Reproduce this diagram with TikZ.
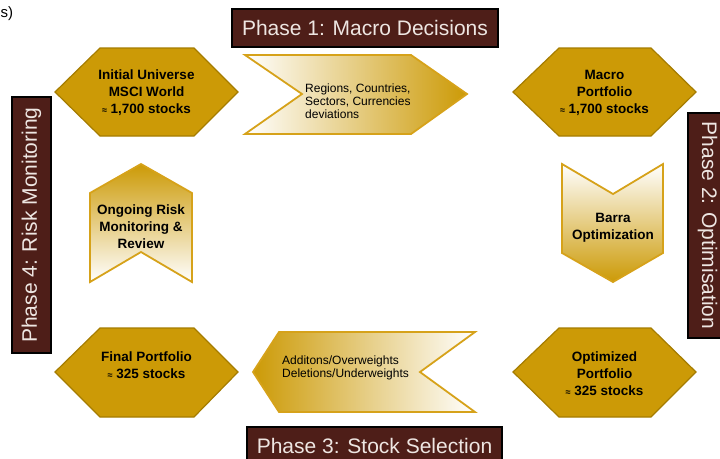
\documentclass[tikz,border=0pt]{standalone}
\usepackage{fontspec}
\setmainfont{Liberation Sans}
\definecolor{gold}{HTML}{CC9A06}
\definecolor{golddark}{HTML}{A57C00}
\definecolor{goldline}{HTML}{D6A21A}
\definecolor{maroon}{HTML}{4E1E18}
\definecolor{phasetext}{HTML}{EEE6E2}
\begin{document}
\begin{tikzpicture}[x=1pt,y=-1pt,
  hexa/.style={fill=gold,draw=golddark,line width=1.2pt,line join=miter},
  chev/.style={draw=goldline,line width=1.8pt,line join=miter},
  phasebox/.style={fill=maroon,draw=black,line width=1.5pt},
  phasetxt/.style={text=phasetext,font=\fontsize{21}{25}\selectfont,inner sep=0pt},
  hextxt/.style={font=\fontsize{13.5}{17}\selectfont\bfseries,align=center,inner sep=0pt},
  chevtxt/.style={font=\fontsize{12}{13}\selectfont,align=left,inner sep=0pt,anchor=west}]
\useasboundingbox (0,0) rectangle (720,458);
\clip (0,0) rectangle (720,458);

% stray label at top-left
\node[anchor=west,inner sep=0pt,font=\fontsize{15}{15}\selectfont] (corner) at (0.5,14) {s)};

% phase boxes
\draw[phasebox] (232,9) rectangle (498,47);
\node[phasetxt] (p1) at (365,28) {Phase 1: Macro Decisions};
\draw[phasebox] (688,113) rectangle (727,338);
\node[phasetxt,rotate=-90] (p2) at (707.5,225.5) {Phase 2: Optimisation};
\draw[phasebox] (247,427) rectangle (502,465);
\node[phasetxt] (p3) at (374.5,446) {Phase 3: Stock Selection};
\draw[phasebox] (12,97) rectangle (51,353);
\node[phasetxt,rotate=90] (p4) at (31.5,225) {Phase 4: Risk Monitoring};

% hexagons
\draw[hexa] (55,92) -- (100,48) -- (194,48) -- (238,92) -- (194,136) -- (100,136) -- cycle;
\node[hextxt] (init) at (146.5,93) {Initial Universe\\MSCI World\\{\fontsize{9}{9}\selectfont ≈} 1,700 stocks};
\draw[hexa] (513,92) -- (559,48) -- (651,48) -- (696,92) -- (651,136) -- (559,136) -- cycle;
\node[hextxt] (macro) at (604.5,93) {Macro\\Portfolio\\{\fontsize{9}{9}\selectfont ≈} 1,700 stocks};
\draw[hexa] (55,372) -- (100,328) -- (194,328) -- (238,372) -- (194,417) -- (100,417) -- cycle;
\node[hextxt] (final) at (146.5,365) {Final Portfolio\\{\fontsize{9}{9}\selectfont ≈} 325 stocks};
\draw[hexa] (513,372) -- (559,328) -- (651,328) -- (696,372) -- (651,417) -- (559,417) -- cycle;
\node[hextxt] (opt) at (604.5,374) {Optimized\\Portfolio\\{\fontsize{9}{9}\selectfont ≈} 325 stocks};

% chevrons
\shadedraw[chev,left color=white,right color=gold] (245,55) -- (411,55) -- (467,94) -- (411,134) -- (245,134) -- (302,94) -- cycle;
\node[chevtxt] (regions) at (305,101.5) {Regions, Countries,\\Sectors, Currencies\\deviations};
\shadedraw[chev,left color=gold,right color=white] (279,332) -- (475,332) -- (420,372) -- (475,412) -- (279,412) -- (253,372) -- cycle;
\node[chevtxt] (adds) at (282,367.5) {Additons/Overweights\\Deletions/Underweights};
\shadedraw[chev,top color=gold,bottom color=white] (141,164) -- (192,193) -- (192,282) -- (141,252) -- (90,282) -- (90,193) -- cycle;
\node[hextxt] (risk) at (141,227) {Ongoing Risk\\Monitoring \&\\Review};
\shadedraw[chev,top color=white,bottom color=gold] (562,164) -- (613,194) -- (663,164) -- (663,253) -- (613,282) -- (562,253) -- cycle;
\node[hextxt] (barra) at (613,227.5) {Barra\\Optimization};
\end{tikzpicture}
\end{document}
